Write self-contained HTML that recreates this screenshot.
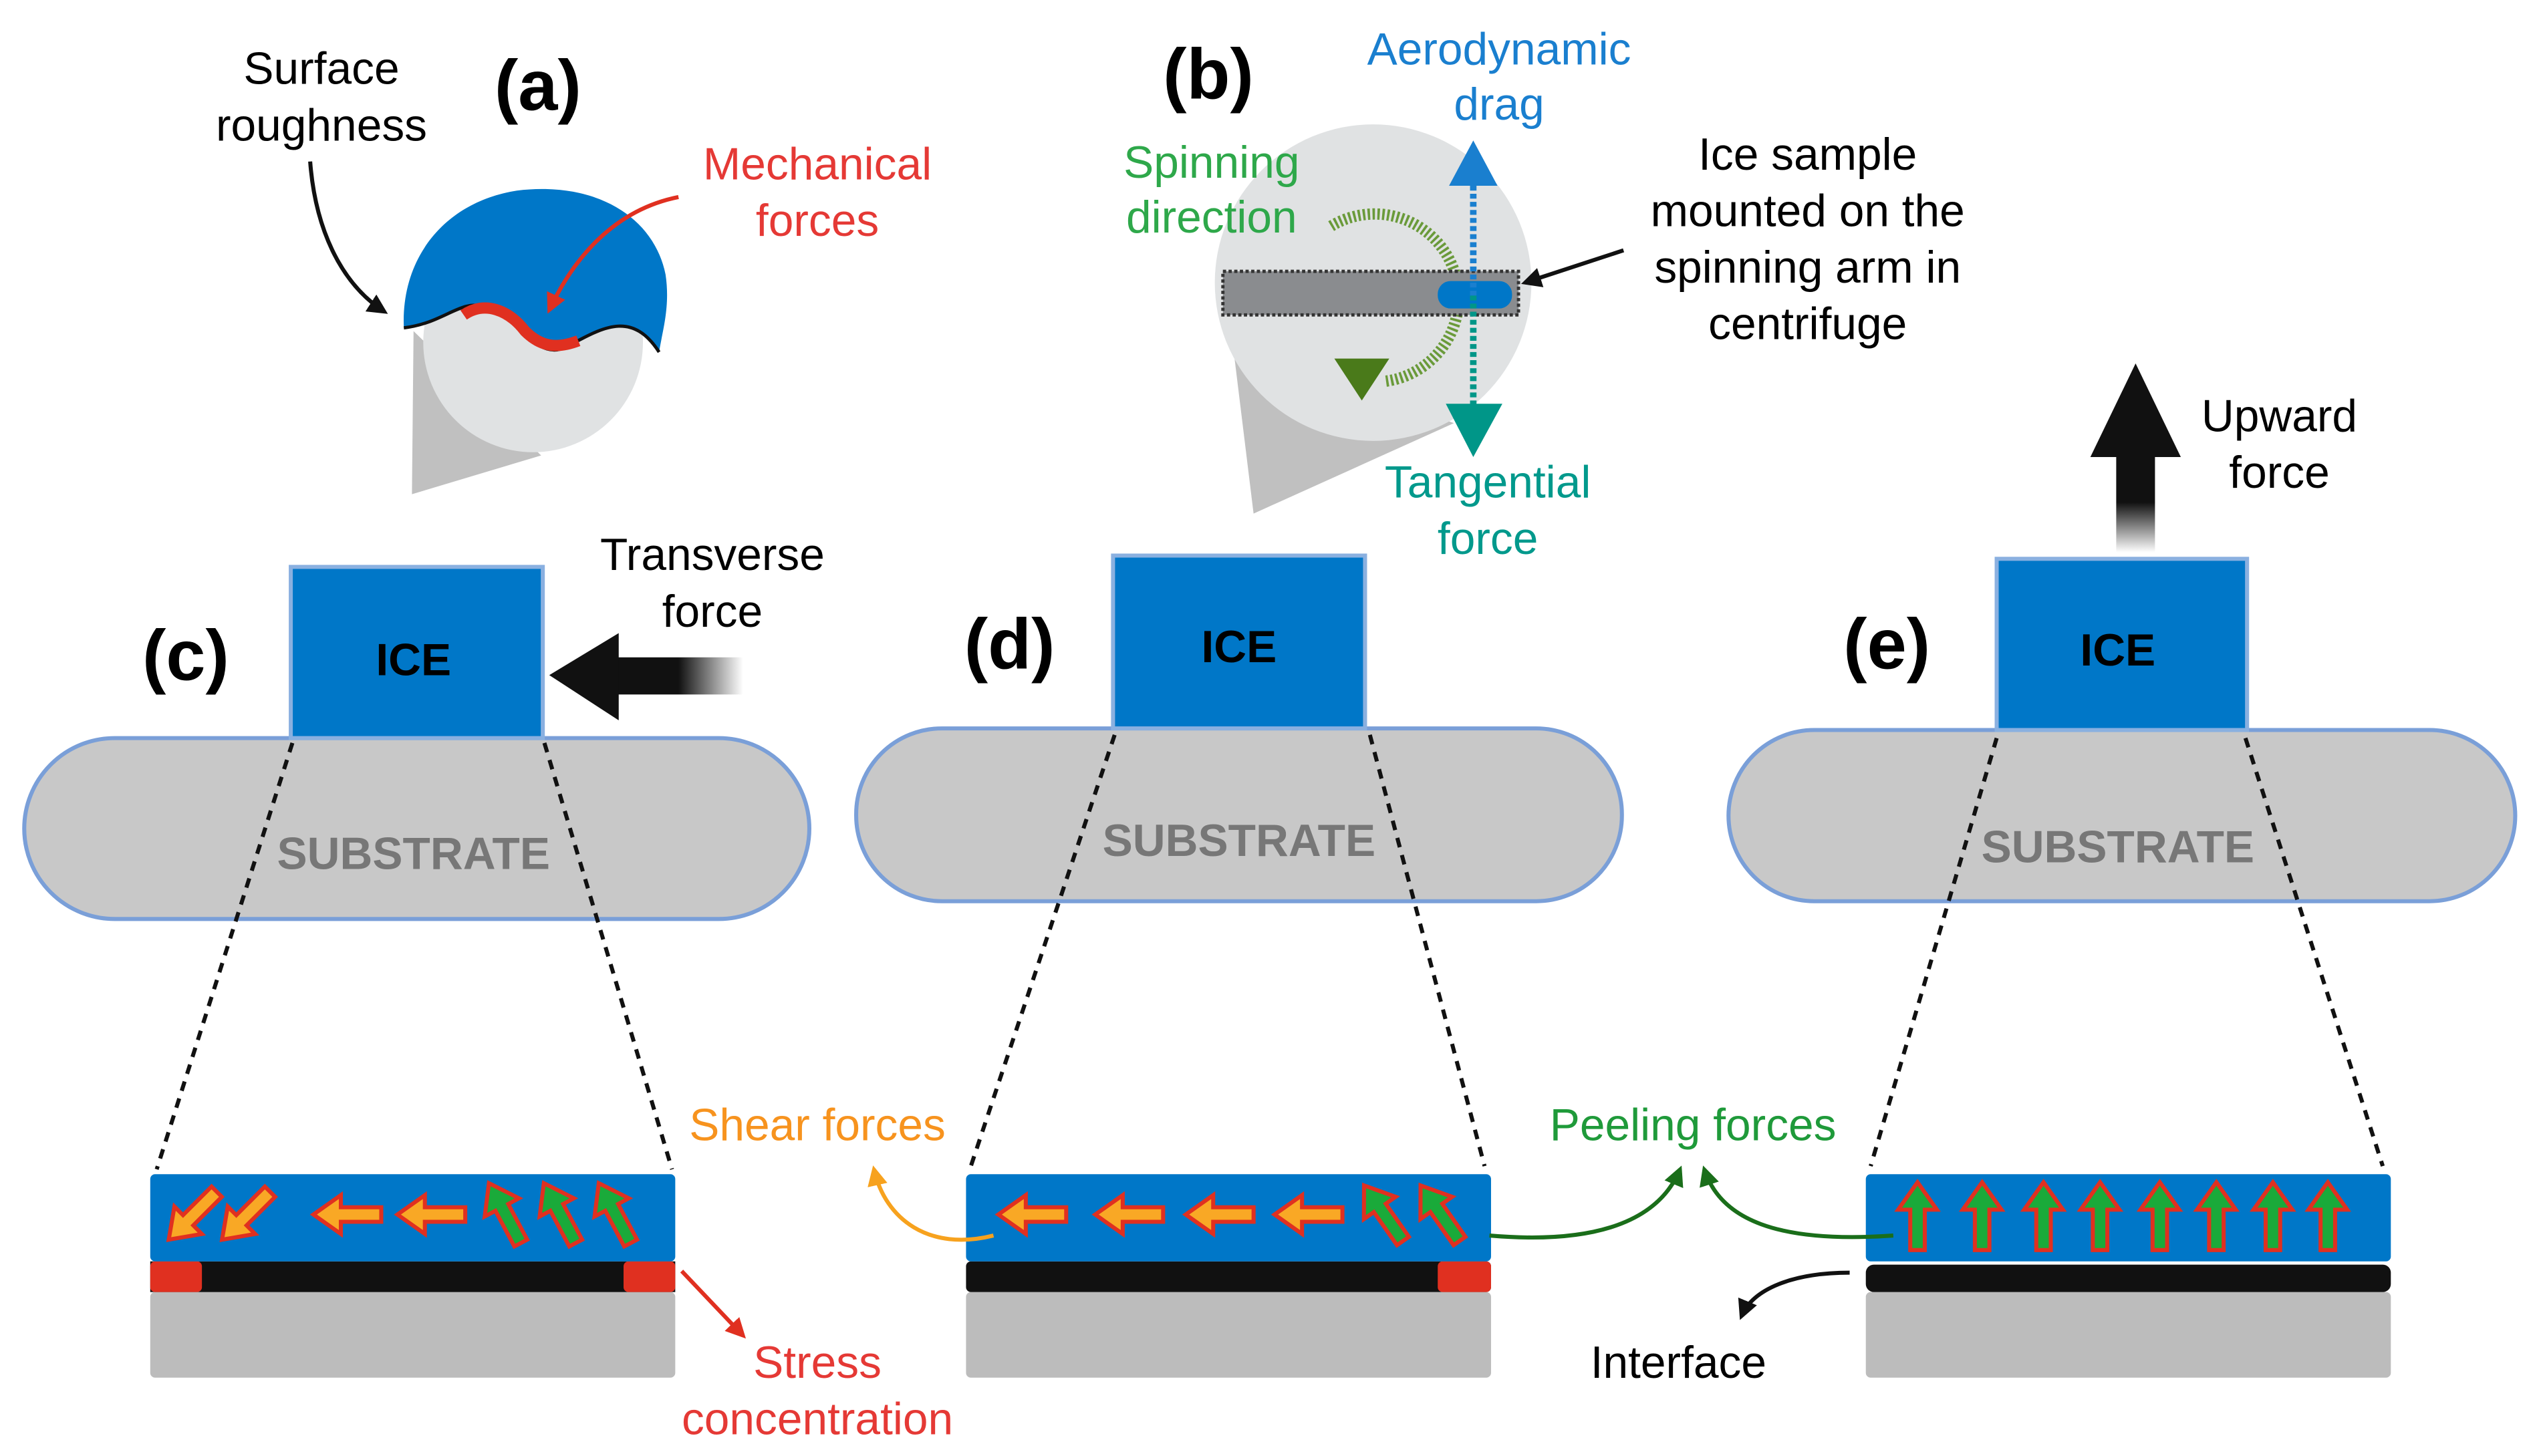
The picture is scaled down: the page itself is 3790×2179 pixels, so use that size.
<!DOCTYPE html>
<html><head><meta charset="utf-8"><style>html,body{margin:0;padding:0;background:#fff}svg{display:block}</style></head>
<body>
<svg width="3790" height="2179" viewBox="0 0 1568 901.5" xmlns="http://www.w3.org/2000/svg" font-family="'Liberation Sans', sans-serif">
<defs>
<path id="ar" d="M-22,0 L-5,-12 L-5,-4.5 L20,-4.5 L20,4.5 L-5,4.5 L-5,12 Z"/>
<linearGradient id="gl" x1="0" x2="1" y1="0" y2="0"><stop offset="0.5" stop-color="#111"/><stop offset="1" stop-color="#111" stop-opacity="0"/></linearGradient>
<linearGradient id="gu" x1="0" x2="0" y1="0" y2="1"><stop offset="0.5" stop-color="#111"/><stop offset="1" stop-color="#111" stop-opacity="0"/></linearGradient>
<marker id="mb" viewBox="0 0 10 10" refX="8" refY="5" markerWidth="5" markerHeight="5" orient="auto"><path d="M0,0 L10,5 L0,10 Z" fill="#111"/></marker>
<marker id="mr" viewBox="0 0 10 10" refX="8" refY="5" markerWidth="5" markerHeight="5" orient="auto"><path d="M0,0 L10,5 L0,10 Z" fill="#e03020"/></marker>
<marker id="mo" viewBox="0 0 10 10" refX="8" refY="5" markerWidth="5" markerHeight="5" orient="auto"><path d="M0,0 L10,5 L0,10 Z" fill="#f7a21e"/></marker>
<marker id="mg" viewBox="0 0 10 10" refX="8" refY="5" markerWidth="5" markerHeight="5" orient="auto"><path d="M0,0 L10,5 L0,10 Z" fill="#1a6e1a"/></marker>
</defs>

<!-- (a) -->
<polygon points="256,205 255,306 335,282" fill="#c0c0c0"/>
<circle cx="330" cy="212" r="68" fill="#e0e2e3"/>
<path d="M250,203 C248,160 275,125 320,118 C370,112 405,135 412,170 C415,190 410,205 408,218 C390,190 370,205 350,215 C330,225 315,188 300,190 C285,185 275,200 250,203 Z" fill="#0077c8"/>
<path d="M250,203 C275,200 285,185 300,190 C315,188 330,225 350,215 C370,205 390,190 408,218" fill="none" stroke="#111" stroke-width="2"/>
<path d="M287,195 C300,186 315,192 325,205 C335,215 345,216 358,211" fill="none" stroke="#e03020" stroke-width="7"/>
<path d="M192,100 C195,140 210,175 238,193" fill="none" stroke="#111" stroke-width="2.5" marker-end="url(#mb)"/>
<path d="M420,122 C380,130 355,160 340,192" fill="none" stroke="#e03020" stroke-width="2.5" marker-end="url(#mr)"/>
<text x="333" y="68" font-size="44" font-weight="bold" text-anchor="middle">(a)</text>
<g font-size="28" text-anchor="middle">
<text x="199" y="52">Surface</text><text x="199" y="87">roughness</text>
<text x="506" y="111" fill="#e53935">Mechanical</text><text x="506" y="146" fill="#e53935">forces</text>
</g>

<!-- (b) -->
<polygon points="763,212 776,318 900,262" fill="#c0c0c0"/>
<circle cx="850" cy="175" r="98" fill="#e0e2e3"/>
<path d="M824,140 A52,52 0 1 1 858,236" fill="none" stroke="#6a9a3a" stroke-width="7" stroke-dasharray="1.5,1.5"/>
<polygon points="826,222 860,222 843,248" fill="#4a7a1a"/>
<rect x="757" y="168" width="183" height="27" fill="#8a8c8f" stroke="#333" stroke-width="2" stroke-dasharray="2,1.5"/>
<rect x="890" y="174" width="46" height="17" rx="8" fill="#0077c8"/>
<line x1="912" y1="115" x2="912" y2="183" stroke="#1a7fcf" stroke-width="4" stroke-dasharray="3,2"/>
<line x1="912" y1="183" x2="912" y2="252" stroke="#009688" stroke-width="4" stroke-dasharray="3,2"/>
<polygon points="912,87 897,115 927,115" fill="#1a7fcf"/>
<polygon points="895,250 930,250 912,283" fill="#009688"/>
<line x1="1005" y1="155" x2="944" y2="175" stroke="#111" stroke-width="2.5" marker-end="url(#mb)"/>
<text x="748" y="61" font-size="44" font-weight="bold" text-anchor="middle">(b)</text>
<g font-size="28" text-anchor="middle">
<text x="928" y="40" fill="#1a7fcf">Aerodynamic</text><text x="928" y="74" fill="#1a7fcf">drag</text>
<text x="750" y="110" fill="#2ea84a">Spinning</text><text x="750" y="144" fill="#2ea84a">direction</text>
<text x="1119" y="105">Ice sample</text><text x="1119" y="140">mounted on the</text><text x="1119" y="175">spinning arm in</text><text x="1119" y="210">centrifuge</text>
<text x="921" y="308" fill="#00998c">Tangential</text><text x="921" y="343" fill="#00998c">force</text>
</g>

<!-- upward force -->
<rect x="1310" y="280" width="24" height="62" fill="url(#gu)"/>
<polygon points="1322,225 1294,283 1350,283" fill="#111"/>
<text x="1411" y="267" font-size="28" text-anchor="middle">Upward</text><text x="1411" y="302" font-size="28" text-anchor="middle">force</text>

<!-- substrates & ice -->
<rect x="15" y="457" width="486" height="112" rx="56" fill="#c8c8c8" stroke="#7a9fd8" stroke-width="2.5"/>
<rect x="180" y="351" width="156" height="106" fill="#0077c8" stroke="#8ab0e0" stroke-width="2.5"/>
<text x="256" y="418" font-size="28" font-weight="bold" text-anchor="middle">ICE</text>
<text x="256" y="538" font-size="28" font-weight="bold" fill="#777" text-anchor="middle">SUBSTRATE</text>
<rect x="380" y="407" width="80" height="23" fill="url(#gl)"/>
<polygon points="340,418 383,392 383,446" fill="#111"/>
<text x="441" y="353" font-size="28" text-anchor="middle">Transverse</text><text x="441" y="388" font-size="28" text-anchor="middle">force</text>
<text x="115" y="421" font-size="44" font-weight="bold" text-anchor="middle">(c)</text>

<rect x="530" y="451" width="474" height="107" rx="53" fill="#c8c8c8" stroke="#7a9fd8" stroke-width="2.5"/>
<rect x="689" y="344" width="156" height="107" fill="#0077c8" stroke="#8ab0e0" stroke-width="2.5"/>
<text x="767" y="410" font-size="28" font-weight="bold" text-anchor="middle">ICE</text>
<text x="767" y="530" font-size="28" font-weight="bold" fill="#777" text-anchor="middle">SUBSTRATE</text>
<text x="625" y="414" font-size="44" font-weight="bold" text-anchor="middle">(d)</text>

<rect x="1070" y="452" width="487" height="106" rx="53" fill="#c8c8c8" stroke="#7a9fd8" stroke-width="2.5"/>
<rect x="1236" y="346" width="155" height="106" fill="#0077c8" stroke="#8ab0e0" stroke-width="2.5"/>
<text x="1311" y="412" font-size="28" font-weight="bold" text-anchor="middle">ICE</text>
<text x="1311" y="534" font-size="28" font-weight="bold" fill="#777" text-anchor="middle">SUBSTRATE</text>
<text x="1168" y="414" font-size="44" font-weight="bold" text-anchor="middle">(e)</text>

<g stroke="#111" stroke-width="2.5" stroke-dasharray="6,5">
<line x1="181" y1="460" x2="97" y2="724"/><line x1="337" y1="460" x2="416" y2="724"/>
<line x1="690" y1="455" x2="601" y2="722"/><line x1="848" y1="455" x2="919" y2="722"/>
<line x1="1236" y1="457" x2="1158" y2="722"/><line x1="1390" y1="457" x2="1475" y2="722"/>
</g>

<!-- (c) film -->
<rect x="93" y="800" width="325" height="53" rx="3" fill="#bcbcbc"/>
<rect x="93" y="781" width="325" height="19" fill="#111"/>
<rect x="93" y="781" width="32" height="19" rx="3" fill="#e03020"/><rect x="386" y="781" width="32" height="19" rx="3" fill="#e03020"/>
<rect x="93" y="727" width="325" height="54" rx="3" fill="#0077c8"/>
<g stroke="#e03020" stroke-width="2.5">
<use href="#ar" fill="#f9a825" transform="translate(120,752) rotate(-45)"/>
<use href="#ar" fill="#f9a825" transform="translate(153,752) rotate(-45)"/>
<use href="#ar" fill="#f9a825" transform="translate(216,752)"/>
<use href="#ar" fill="#f9a825" transform="translate(268,752)"/>
<use href="#ar" fill="#1aaa3a" transform="translate(313,752) rotate(62)"/>
<use href="#ar" fill="#1aaa3a" transform="translate(347,752) rotate(62)"/>
<use href="#ar" fill="#1aaa3a" transform="translate(381,752) rotate(62)"/>
</g>
<line x1="422" y1="787" x2="460" y2="827" stroke="#e03020" stroke-width="2.5" marker-end="url(#mr)"/>
<text x="506" y="853" font-size="28" fill="#e53935" text-anchor="middle">Stress</text><text x="506" y="888" font-size="28" fill="#e53935" text-anchor="middle">concentration</text>

<!-- (d) film -->
<rect x="598" y="800" width="325" height="53" rx="3" fill="#bcbcbc"/>
<rect x="598" y="781" width="325" height="19" rx="3" fill="#111"/>
<rect x="890" y="781" width="33" height="19" rx="3" fill="#e03020"/>
<rect x="598" y="727" width="325" height="54" rx="3" fill="#0077c8"/>
<g stroke="#e03020" stroke-width="2.5">
<use href="#ar" fill="#f9a825" transform="translate(640,752)"/>
<use href="#ar" fill="#f9a825" transform="translate(700,752)"/>
<use href="#ar" fill="#f9a825" transform="translate(756,752)"/>
<use href="#ar" fill="#f9a825" transform="translate(811,752)"/>
<use href="#ar" fill="#1aaa3a" transform="translate(857,752) rotate(55)"/>
<use href="#ar" fill="#1aaa3a" transform="translate(892,752) rotate(55)"/>
</g>
<path d="M615,765 C575,775 548,755 541,724" fill="none" stroke="#f7a21e" stroke-width="2.5" marker-end="url(#mo)"/>
<text x="506" y="706" font-size="28" fill="#f7931e" text-anchor="middle">Shear forces</text>

<!-- (e) film -->
<rect x="1155" y="800" width="325" height="53" rx="3" fill="#bcbcbc"/>
<rect x="1155" y="783" width="325" height="17" rx="5" fill="#111"/>
<rect x="1155" y="727" width="325" height="54" rx="3" fill="#0077c8"/>
<g stroke="#e03020" stroke-width="2.5" fill="#1aaa3a">
<use href="#ar" transform="translate(1187,754) rotate(90)"/>
<use href="#ar" transform="translate(1227,754) rotate(90)"/>
<use href="#ar" transform="translate(1265,754) rotate(90)"/>
<use href="#ar" transform="translate(1300,754) rotate(90)"/>
<use href="#ar" transform="translate(1337,754) rotate(90)"/>
<use href="#ar" transform="translate(1372,754) rotate(90)"/>
<use href="#ar" transform="translate(1407,754) rotate(90)"/>
<use href="#ar" transform="translate(1441,754) rotate(90)"/>
</g>
<path d="M922,765 C980,770 1025,760 1040,724" fill="none" stroke="#1a6e1a" stroke-width="2.5" marker-end="url(#mg)"/>
<path d="M1172,765 C1100,770 1065,755 1055,724" fill="none" stroke="#1a6e1a" stroke-width="2.5" marker-end="url(#mg)"/>
<text x="1048" y="706" font-size="28" fill="#1f9a3a" text-anchor="middle">Peeling forces</text>
<path d="M1145,788 C1110,788 1085,798 1078,815" fill="none" stroke="#111" stroke-width="2.5" marker-end="url(#mb)"/>
<text x="1039" y="853" font-size="28" text-anchor="middle">Interface</text>
</svg>
</body></html>
